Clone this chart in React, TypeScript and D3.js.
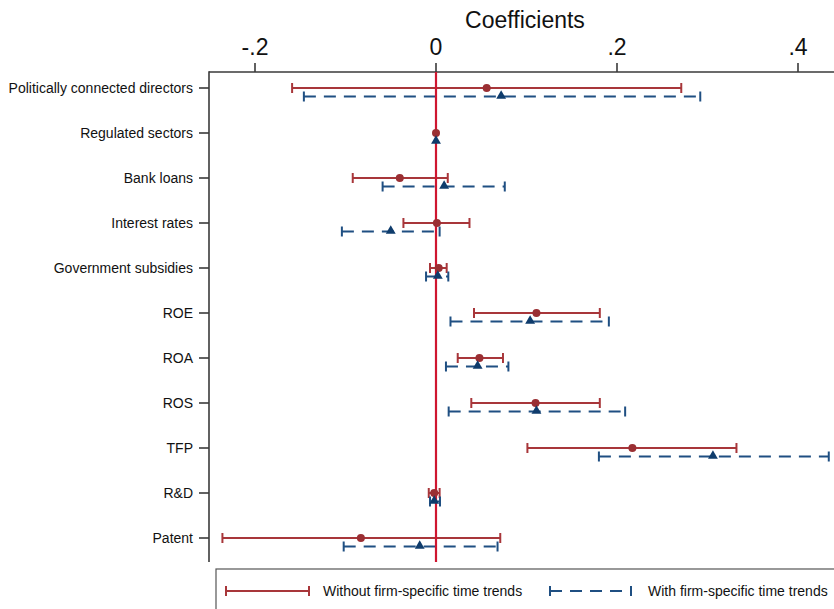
import React, { useEffect, useRef } from 'react';
import * as d3 from 'd3';

// categories, top to bottom
const categories = [
  'Politically connected directors',
  'Regulated sectors',
  'Bank loans',
  'Interest rates',
  'Government subsidies',
  'ROE',
  'ROA',
  'ROS',
  'TFP',
  'R&D',
  'Patent',
];

// without firm-specific time trends
const redCoef = [0.056, 0, -0.04, 0.001, 0.003, 0.111, 0.048, 0.11, 0.217, -0.002, -0.083];
const redLo = [-0.159, 0, -0.092, -0.036, -0.0066, 0.042, 0.024, 0.039, 0.101, -0.008, -0.236];
const redHi = [0.271, 0, 0.013, 0.037, 0.0118, 0.181, 0.074, 0.181, 0.332, 0.004, 0.071];

// with firm-specific time trends
const blueCoef = [0.072, 0, 0.009, -0.05, 0.002, 0.104, 0.046, 0.111, 0.306, -0.002, -0.018];
const blueLo = [-0.146, 0, -0.059, -0.104, -0.011, 0.016, 0.011, 0.014, 0.18, -0.0066, -0.102];
const blueHi = [0.292, 0, 0.076, 0.004, 0.0136, 0.191, 0.08, 0.209, 0.434, 0.0044, 0.068];

const xTicks = [-0.2, 0, 0.2, 0.4];
const xTickLabels = ['-.2', '0', '.2', '.4'];
const legendLabels = ['Without firm-specific time trends', 'With firm-specific time trends'];

const W = 834;
const H = 609;
const FONT = '"Liberation Sans", Arial, sans-serif';

const RED = '#a8363a';
const RED_DOT = '#9a2f33';
const ZERO = '#cf1630';
const BLUE = '#1f4f82';
const BLUE_TRI = '#0f3c6c';
const AXIS = '#3a3a3a';

const App: React.FC = () => {
  const svgRef = useRef<SVGSVGElement>(null);

  useEffect(() => {
    if (!svgRef.current) return;
    const svg = d3.select(svgRef.current);
    svg.selectAll('*').remove();

    const left = 209;
    const top = 72;
    const bottom = 562;

    const x = d3.scaleLinear().domain([-0.2, 0.4]).range([255, 798]);
    const y = d3.scalePoint<string>().domain(categories).range([88, 538]).padding(0);
    const off = 8.5;
    const cap = 5;

    svg.append('rect').attr('width', W).attr('height', H).attr('fill', '#fff');

    // title
    svg.append('text')
      .attr('x', 525).attr('y', 28)
      .attr('text-anchor', 'middle')
      .attr('font-family', FONT).attr('font-size', 23)
      .attr('fill', '#111')
      .text('Coefficients');

    // top axis
    svg.append('line')
      .attr('x1', left).attr('x2', W + 5).attr('y1', top).attr('y2', top)
      .attr('stroke', AXIS).attr('stroke-width', 1.6);
    const xt = svg.append('g');
    xt.selectAll('line').data(xTicks).enter().append('line')
      .attr('x1', d => x(d)).attr('x2', d => x(d))
      .attr('y1', top).attr('y2', top - 9)
      .attr('stroke', AXIS).attr('stroke-width', 1.6);
    xt.selectAll('text').data(xTicks).enter().append('text')
      .attr('x', d => x(d)).attr('y', 55)
      .attr('text-anchor', 'middle')
      .attr('font-family', FONT).attr('font-size', 23)
      .attr('fill', '#111')
      .text((_, i) => xTickLabels[i]);

    // left axis
    svg.append('line')
      .attr('x1', left).attr('x2', left).attr('y1', top - 0.8).attr('y2', bottom)
      .attr('stroke', AXIS).attr('stroke-width', 1.6);
    const yt = svg.append('g');
    yt.selectAll('line').data(categories).enter().append('line')
      .attr('x1', left - 10).attr('x2', left)
      .attr('y1', d => y(d)!).attr('y2', d => y(d)!)
      .attr('stroke', AXIS).attr('stroke-width', 1.6);
    yt.selectAll('text').data(categories).enter().append('text')
      .attr('x', 193).attr('y', d => y(d)!)
      .attr('dy', '0.35em')
      .attr('text-anchor', 'end')
      .attr('font-family', FONT).attr('font-size', 14)
      .attr('fill', '#111')
      .text(d => d);

    // confidence intervals
    const drawCI = (lo: number[], hi: number[], dy: number, color: string, dash: string | null) => {
      const g = svg.append('g');
      categories.forEach((c, i) => {
        const yy = y(c)! + dy;
        g.append('line')
          .attr('x1', x(lo[i])).attr('x2', x(hi[i]))
          .attr('y1', yy).attr('y2', yy)
          .attr('stroke', color).attr('stroke-width', 2)
          .attr('stroke-dasharray', dash);
        [lo[i], hi[i]].forEach(v => {
          g.append('line')
            .attr('x1', x(v)).attr('x2', x(v))
            .attr('y1', yy - cap).attr('y2', yy + cap)
            .attr('stroke', color).attr('stroke-width', 2);
        });
      });
    };
    drawCI(redLo, redHi, 0, RED, null);
    drawCI(blueLo, blueHi, off, BLUE, '12 8');

    // zero line
    svg.append('line')
      .attr('x1', x(0)).attr('x2', x(0)).attr('y1', top).attr('y2', bottom)
      .attr('stroke', ZERO).attr('stroke-width', 2.2);

    // point estimates
    svg.append('g').selectAll('circle').data(categories).enter().append('circle')
      .attr('cx', (_, i) => x(redCoef[i]))
      .attr('cy', d => y(d)!)
      .attr('r', 4)
      .attr('fill', RED_DOT);
    const tri = d3.symbol().type(d3.symbolTriangle).size(42);
    svg.append('g').selectAll('path').data(categories).enter().append('path')
      .attr('d', tri)
      .attr('transform', (d, i) => `translate(${x(blueCoef[i])},${y(d)! + off - 0.5})`)
      .attr('fill', BLUE_TRI);

    // legend
    const lg = svg.append('g');
    lg.append('rect')
      .attr('x', 216).attr('y', 569).attr('width', 640).attr('height', 60)
      .attr('fill', '#fff').attr('stroke', '#555').attr('stroke-width', 1.2);
    const ly = 591;
    const sample = (x1: number, x2: number, color: string, dash: string | null) => {
      lg.append('line')
        .attr('x1', x1).attr('x2', x2).attr('y1', ly).attr('y2', ly)
        .attr('stroke', color).attr('stroke-width', 2)
        .attr('stroke-dasharray', dash);
      [x1, x2].forEach(v => {
        lg.append('line')
          .attr('x1', v).attr('x2', v).attr('y1', ly - cap).attr('y2', ly + cap)
          .attr('stroke', color).attr('stroke-width', 2);
      });
    };
    sample(226, 309, RED, null);
    sample(550, 631, BLUE, '12 8');
    lg.append('text')
      .attr('x', 323).attr('y', ly).attr('dy', '0.35em')
      .attr('font-family', FONT).attr('font-size', 14).attr('fill', '#111')
      .text(legendLabels[0]);
    lg.append('text')
      .attr('x', 648).attr('y', ly).attr('dy', '0.35em')
      .attr('font-family', FONT).attr('font-size', 14).attr('fill', '#111')
      .text(legendLabels[1]);
  }, []);

  return (
    <svg
      ref={svgRef}
      width={W}
      height={H}
      style={{ position: 'absolute', left: 0, top: 0, display: 'block' }}
    />
  );
};

export default App;
